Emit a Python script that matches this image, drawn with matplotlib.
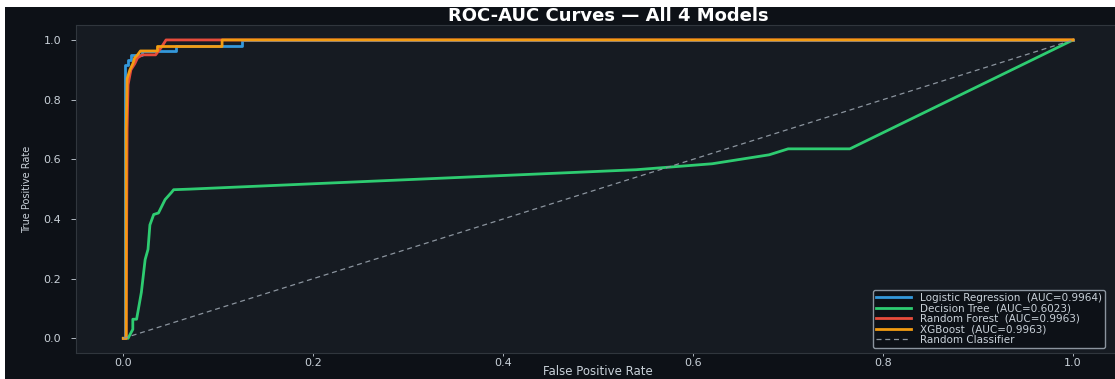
"""ROC curves for the four classifiers, dark theme."""
import matplotlib
matplotlib.use("Agg")
import matplotlib.pyplot as plt
from matplotlib.patches import Rectangle


# ROC points per model (false positive rate, true positive rate)
lr_fpr = [0.0, 0.002, 0.002, 0.005, 0.005, 0.008, 0.008, 0.020, 0.020, 0.055, 0.055, 0.125, 0.125, 1.0]
lr_tpr = [0.0, 0.0, 0.916, 0.916, 0.933, 0.933, 0.950, 0.950, 0.964, 0.964, 0.978, 0.978, 1.0, 1.0]

dt_fpr = [0.0, 0.005, 0.010, 0.010, 0.014, 0.019, 0.023, 0.026, 0.028, 0.032, 0.037,
          0.044, 0.051, 0.053, 0.070, 0.540, 0.620, 0.680, 0.700, 0.765, 1.0]
dt_tpr = [0.0, 0.0, 0.030, 0.064, 0.064, 0.154, 0.264, 0.298, 0.380, 0.415, 0.420,
          0.465, 0.490, 0.498, 0.500, 0.565, 0.585, 0.615, 0.635, 0.635, 1.0]

rf_fpr = [0.0, 0.003, 0.004, 0.005, 0.008, 0.012, 0.015, 0.020, 0.034, 0.040, 0.045, 1.0]
rf_tpr = [0.0, 0.0, 0.70, 0.85, 0.90, 0.92, 0.94, 0.950, 0.950, 0.975, 1.0, 1.0]

xgb_fpr = [0.0, 0.003, 0.003, 0.004, 0.007, 0.010, 0.012, 0.015, 0.018, 0.036, 0.036, 0.104, 0.104, 1.0]
xgb_tpr = [0.0, 0.0, 0.70, 0.87, 0.90, 0.92, 0.94, 0.95, 0.963, 0.963, 0.978, 0.978, 1.0, 1.0]

model_names = ["Logistic Regression", "Decision Tree", "Random Forest", "XGBoost"]
model_auc = [0.9964, 0.6023, 0.9963, 0.9963]
model_colors = ["#3498db", "#2ecc71", "#e74c3c", "#f39c12"]

BG = "#0d1117"
PANEL = "#161b22"
TEXT = "#c9d1d9"


def main():
    fig = plt.figure(figsize=(11.15, 3.79), dpi=100, facecolor="white")
    # dark canvas behind everything
    fig.patches.append(Rectangle((5 / 1115, 0), 1, 372 / 379, transform=fig.transFigure,
                                 facecolor=BG, edgecolor="none", zorder=-10))

    ax = fig.add_axes([0.068, 0.068, 0.937, 0.866])
    ax.set_facecolor(PANEL)

    curves = [(lr_fpr, lr_tpr), (dt_fpr, dt_tpr), (rf_fpr, rf_tpr), (xgb_fpr, xgb_tpr)]
    for (fpr, tpr), name, auc, color in zip(curves, model_names, model_auc, model_colors):
        ax.plot(fpr, tpr, color=color, lw=2, label=f"{name}  (AUC={auc:.4f})")

    ax.plot([0, 1], [0, 1], color="#8b949e", lw=0.9, ls="--", dashes=(4, 3),
            label="Random Classifier")

    ax.set_xlim(-0.05, 1.05)
    ax.set_ylim(-0.05, 1.05)
    ax.set_xticks([0.0, 0.2, 0.4, 0.6, 0.8, 1.0])
    ax.set_yticks([0.0, 0.2, 0.4, 0.6, 0.8, 1.0])

    ax.tick_params(colors=TEXT, width=0.6)
    ax.tick_params(axis="x", labelsize=8, length=2.5, pad=1)
    ax.tick_params(axis="y", labelsize=8, length=3.5, pad=7)
    for s in ax.spines.values():
        s.set_color("#30363d")
        s.set_linewidth(0.8)

    ax.set_xlabel("False Positive Rate", color=TEXT, fontsize=8.5, labelpad=-2.5)
    ax.set_ylabel("True Positive Rate", color=TEXT, fontsize=7, labelpad=8)
    ax.set_title("ROC-AUC Curves — All 4 Models", color="white", fontsize=13,
                 fontweight="bold", pad=1, x=0.51)

    leg = ax.legend(loc="lower right", fontsize=7.5, labelspacing=0.05, borderpad=0.3,
                    handlelength=3.4, facecolor=BG, edgecolor="#8b949e",
                    framealpha=1.0, bbox_to_anchor=(0.99, 0.0))
    for t in leg.get_texts():
        t.set_color(TEXT)

    fig.savefig("out.png", dpi=100, facecolor=fig.get_facecolor())


if __name__ == "__main__":
    main()
